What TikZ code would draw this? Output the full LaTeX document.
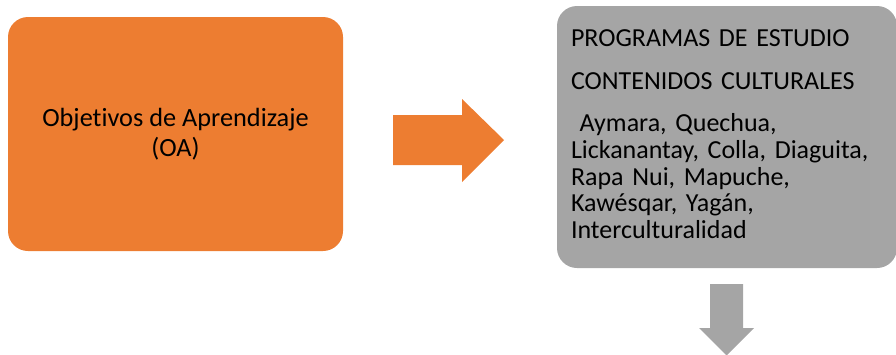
\documentclass[tikz,border=0pt]{standalone}
\usepackage{fontspec}
\setmainfont{Carlito}[Ligatures=NoCommon]
\definecolor{oaorange}{HTML}{ED7D31}
\definecolor{progray}{HTML}{A5A5A5}
\begin{document}
\begin{tikzpicture}[x=1pt,y=-1pt,
  box/.style={rounded corners=20pt,inner sep=15pt},
  orangebox/.style={box,fill=oaorange,minimum width=335pt,minimum height=234pt,
    align=center,font=\fontsize{26.3}{30}\selectfont},
  graybox/.style={box,fill=progray,minimum width=340pt,minimum height=262pt},
  graytext/.style={inner sep=0pt,text width=312pt,align=left,anchor=north west,
    font=\fontsize{26}{26.7}\selectfont}]
\useasboundingbox (0,0) rectangle (896,354);
\node[orangebox] (oa) at (175.5,134) {Objetivos de Aprendizaje\\(OA)};
\node[graybox] (prog) at (727,137) {};
\node[graytext] (progtxt) at ([xshift=14pt,yshift=-23.5pt]prog.north west) {PROGRAMAS DE ESTUDIO\\[16pt]
  CONTENIDOS CULTURALES\\[16pt]
  \ Aymara, Quechua,\\
  Lickanantay, Colla, Diaguita,\\
  Rapa Nui, Mapuche,\\
  Kawésqar, Yagán,\\
  Interculturalidad};
% block arrows
\fill[oaorange] (393,115) -- (462,115) -- (462,99) -- (504,140) -- (462,182) -- (462,165) -- (393,165) -- cycle;
\fill[progray] (710,284) -- (743,284) -- (743,328) -- (754,328) -- (726.5,355.5) -- (699,328) -- (710,328) -- cycle;
\end{tikzpicture}
\end{document}
